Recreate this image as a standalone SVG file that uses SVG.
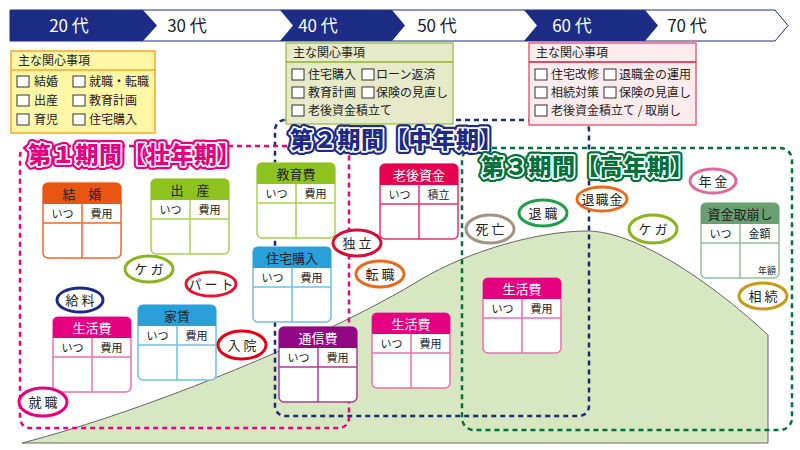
<svg xmlns="http://www.w3.org/2000/svg" width="800" height="450" viewBox="0 0 800 450">
<style>
text{font-family:"Noto Sans CJK JP","Noto Sans",sans-serif}
.bn{font-size:17px;text-anchor:middle}
.cb{fill:#fff;stroke:#333;stroke-width:1}
.bt{font-size:12px;fill:#222}
.fr{fill:#fff;stroke:var(--s);stroke-width:1.5}
.hd{fill:var(--c)}
.ln{stroke:var(--s);stroke-width:1.5;fill:none}
.ct{font-size:13px;text-anchor:middle;fill:var(--t)}
.cs{font-size:11px;text-anchor:middle;fill:#222}
.k-or{--c:#e95513;--s:#ec6a2c;--t:#222}
.k-gr{--c:#8dc21f;--s:#a9cf54;--t:#222}
.k-bl{--c:#29a0da;--s:#6fbfe8;--t:#222}
.k-cr{--c:#e5004f;--s:#e5336f;--t:#fff}
.k-mg{--c:#e4007f;--s:#ee6fb0;--t:#fff}
.k-pu{--c:#920783;--s:#a93c9c;--t:#fff}
.k-sg{--c:#6a9f72;--s:#94c09c;--t:#222}
.ov{fill:#fff;stroke-width:3}
.ot{font-size:13px;text-anchor:middle;fill:#222;letter-spacing:3px}
.fd{fill:none;stroke-width:2.5;stroke-dasharray:5 4}
.po{font-size:23px;font-weight:900;stroke-width:8;stroke-linejoin:round;letter-spacing:0.7px}
.pi{font-size:23px;font-weight:900;stroke:#fff;stroke-width:3.5;stroke-linejoin:round;paint-order:stroke;letter-spacing:0.7px}
</style>

<!-- banner -->
<g id="banner">
<polygon points="10,10 775,10 788,25.5 775,41 10,41" fill="#fff" stroke="#1d2d85" stroke-width="1"/>
<polygon points="10,10 143,10 157,25.5 143,41 10,41" fill="#1d2d85"/>
<polygon points="280,10 392,10 405,25.5 392,41 280,41 293,25.5" fill="#1d2d85"/>
<polygon points="524,10 645,10 658,25.5 645,41 524,41 537,25.5" fill="#1d2d85"/>
<text class="bn" x="69" y="32" fill="#fff">20 代</text>
<text class="bn" x="187" y="32" fill="#222">30 代</text>
<text class="bn" x="318" y="32" fill="#fff">40 代</text>
<text class="bn" x="437" y="32" fill="#222">50 代</text>
<text class="bn" x="572" y="32" fill="#fff">60 代</text>
<text class="bn" x="687" y="32" fill="#222">70 代</text>
</g>

<!-- hill -->
<path id="hill" d="M22,443 C150,410 330,335 420,280 C470,250 540,231 587,231 C640,231 720,290 768,335 L768,443 Z" fill="#d6e7c1" stroke="#666" stroke-width="1"/>

<!-- period frames -->
<g id="periods">
<rect class="fd" x="462" y="148" width="330" height="282" rx="12" stroke="#00703c"/>
<rect class="fd" x="275" y="120" width="314" height="296" rx="10" stroke="#1d2a7a"/>
<rect class="fd" x="20" y="146" width="329" height="282" rx="10" stroke="#e4007f"/>
</g>

<!-- concern boxes -->
<g id="box-20s">
<rect x="11" y="51" width="144" height="82" fill="#fff7a6" stroke="#f7a823" stroke-width="1.5"/>
<line x1="11" y1="70" x2="155" y2="70" stroke="#f7a823" stroke-width="1.5"/>
<text class="bt" x="18" y="65">主な関心事項</text>
<rect class="cb" x="17" y="76" width="12" height="11"/><text class="bt" x="34" y="86">結婚</text>
<rect class="cb" x="73" y="76" width="12" height="11"/><text class="bt" x="89" y="86">就職・転職</text>
<rect class="cb" x="17" y="95" width="12" height="11"/><text class="bt" x="34" y="105">出産</text>
<rect class="cb" x="73" y="95" width="12" height="11"/><text class="bt" x="89" y="105">教育計画</text>
<rect class="cb" x="17" y="114" width="12" height="11"/><text class="bt" x="34" y="124">育児</text>
<rect class="cb" x="73" y="114" width="12" height="11"/><text class="bt" x="89" y="124">住宅購入</text>
</g>

<g id="box-40s">
<rect x="286" y="43" width="167" height="81" fill="#e6eac9" stroke="#a5c455" stroke-width="1.5"/>
<line x1="286" y1="62" x2="453" y2="62" stroke="#8db52f" stroke-width="1.5"/>
<text class="bt" x="293" y="57">主な関心事項</text>
<rect class="cb" x="292" y="69" width="12" height="11"/><text class="bt" x="308" y="79">住宅購入</text>
<rect class="cb" x="362" y="69" width="12" height="11"/><text class="bt" x="376" y="79">ローン返済</text>
<rect class="cb" x="292" y="87" width="12" height="11"/><text class="bt" x="308" y="97">教育計画</text>
<rect class="cb" x="362" y="87" width="12" height="11"/><text class="bt" x="376" y="97">保険の見直し</text>
<rect class="cb" x="292" y="105" width="12" height="11"/><text class="bt" x="308" y="115">老後資金積立て</text>
</g>

<g id="box-60s">
<rect x="529" y="43" width="167" height="82" fill="#fdeced" stroke="#e8607a" stroke-width="1.5"/>
<line x1="529" y1="62" x2="696" y2="62" stroke="#e0103a" stroke-width="1.5"/>
<text class="bt" x="536" y="57">主な関心事項</text>
<rect class="cb" x="535" y="69" width="12" height="11"/><text class="bt" x="551" y="79">住宅改修</text>
<rect class="cb" x="604" y="69" width="12" height="11"/><text class="bt" x="619" y="79">退職金の運用</text>
<rect class="cb" x="535" y="87" width="12" height="11"/><text class="bt" x="551" y="97">相続対策</text>
<rect class="cb" x="604" y="87" width="12" height="11"/><text class="bt" x="619" y="97">保険の見直し</text>
<rect class="cb" x="535" y="105" width="12" height="11"/><text class="bt" x="551" y="115">老後資金積立て / 取崩し</text>
</g>

<!-- period titles -->
<g id="title-1">
<text class="po" x="28" y="163" fill="#e4007f" stroke="#e4007f">第１期間【壮年期】</text>
<text class="pi" x="28" y="163" fill="#e4007f">第１期間【壮年期】</text>
</g>
<g id="title-2">
<text class="po" x="290" y="148" fill="#1d2a88" stroke="#1d2a88">第２期間【中年期】</text>
<text class="pi" x="290" y="148" fill="#1d2a88">第２期間【中年期】</text>
</g>
<g id="title-3">
<text class="po" x="481" y="175" fill="#00703c" stroke="#00703c">第３期間【高年期】</text>
<text class="pi" x="481" y="175" fill="#00703c">第３期間【高年期】</text>
</g>

<!-- cards -->
<g id="card-kekkon" class="k-or" transform="translate(43,183)">
<rect class="fr" width="78" height="75" rx="5"/><path class="hd" d="M0,21V5Q0,0 5,0H73Q78,0 78,5V21Z"/>
<path class="ln" d="M0,40H78M39,21V75"/>
<text class="ct" x="39" y="15.5">結　婚</text><text class="cs" x="19.5" y="35">いつ</text><text class="cs" x="58.5" y="35">費用</text>
</g>
<g id="card-shussan" class="k-gr" transform="translate(151,179)">
<rect class="fr" width="78" height="75" rx="5"/><path class="hd" d="M0,21V5Q0,0 5,0H73Q78,0 78,5V21Z"/>
<path class="ln" d="M0,40H78M39,21V75"/>
<text class="ct" x="39" y="15.5">出　産</text><text class="cs" x="19.5" y="35">いつ</text><text class="cs" x="58.5" y="35">費用</text>
</g>
<g id="card-kyouiku" class="k-gr" transform="translate(257,163)">
<rect class="fr" width="78" height="75" rx="5"/><path class="hd" d="M0,21V5Q0,0 5,0H73Q78,0 78,5V21Z"/>
<path class="ln" d="M0,40H78M39,21V75"/>
<text class="ct" x="39" y="15.5">教育費</text><text class="cs" x="19.5" y="35">いつ</text><text class="cs" x="58.5" y="35">費用</text>
</g>
<g id="card-juutaku" class="k-bl" transform="translate(253,247)">
<rect class="fr" width="78" height="75" rx="5"/><path class="hd" d="M0,21V5Q0,0 5,0H73Q78,0 78,5V21Z"/>
<path class="ln" d="M0,40H78M39,21V75"/>
<text class="ct" x="39" y="15.5">住宅購入</text><text class="cs" x="19.5" y="35">いつ</text><text class="cs" x="58.5" y="35">費用</text>
</g>
<g id="card-rougo" class="k-cr" transform="translate(380,164)">
<rect class="fr" width="78" height="75" rx="5"/><path class="hd" d="M0,21V5Q0,0 5,0H73Q78,0 78,5V21Z"/>
<path class="ln" d="M0,40H78M39,21V75"/>
<text class="ct" x="39" y="15.5">老後資金</text><text class="cs" x="19.5" y="35">いつ</text><text class="cs" x="58.5" y="35">積立</text>
</g>
<g id="card-seikatsu1" class="k-mg" transform="translate(53,317)">
<rect class="fr" width="78" height="75" rx="5"/><path class="hd" d="M0,21V5Q0,0 5,0H73Q78,0 78,5V21Z"/>
<path class="ln" d="M0,40H78M39,21V75"/>
<text class="ct" x="39" y="15.5">生活費</text><text class="cs" x="19.5" y="35">いつ</text><text class="cs" x="58.5" y="35">費用</text>
</g>
<g id="card-yachin" class="k-bl" transform="translate(138,305)">
<rect class="fr" width="78" height="75" rx="5"/><path class="hd" d="M0,21V5Q0,0 5,0H73Q78,0 78,5V21Z"/>
<path class="ln" d="M0,40H78M39,21V75"/>
<text class="ct" x="39" y="15.5">家賃</text><text class="cs" x="19.5" y="35">いつ</text><text class="cs" x="58.5" y="35">費用</text>
</g>
<g id="card-tsuushin" class="k-pu" transform="translate(279,327)">
<rect class="fr" width="78" height="75" rx="5"/><path class="hd" d="M0,21V5Q0,0 5,0H73Q78,0 78,5V21Z"/>
<path class="ln" d="M0,40H78M39,21V75"/>
<text class="ct" x="39" y="15.5">通信費</text><text class="cs" x="19.5" y="35">いつ</text><text class="cs" x="58.5" y="35">費用</text>
</g>
<g id="card-seikatsu2" class="k-mg" transform="translate(372,313)">
<rect class="fr" width="78" height="75" rx="5"/><path class="hd" d="M0,21V5Q0,0 5,0H73Q78,0 78,5V21Z"/>
<path class="ln" d="M0,40H78M39,21V75"/>
<text class="ct" x="39" y="15.5">生活費</text><text class="cs" x="19.5" y="35">いつ</text><text class="cs" x="58.5" y="35">費用</text>
</g>
<g id="card-seikatsu3" class="k-mg" transform="translate(483,278)">
<rect class="fr" width="78" height="75" rx="5"/><path class="hd" d="M0,21V5Q0,0 5,0H73Q78,0 78,5V21Z"/>
<path class="ln" d="M0,40H78M39,21V75"/>
<text class="ct" x="39" y="15.5">生活費</text><text class="cs" x="19.5" y="35">いつ</text><text class="cs" x="58.5" y="35">費用</text>
</g>
<g id="card-torikuzushi" class="k-sg" transform="translate(701,203)">
<rect class="fr" width="78" height="75" rx="5"/><path class="hd" d="M0,21V5Q0,0 5,0H73Q78,0 78,5V21Z"/>
<path class="ln" d="M0,40H78M39,21V75"/>
<text class="ct" x="39" y="15.5">資金取崩し</text><text class="cs" x="19.5" y="35">いつ</text><text class="cs" x="58.5" y="35">金額</text>
<text x="75" y="71" font-size="9" text-anchor="end" fill="#222">年額</text>
</g>

<!-- event ovals -->
<g id="ev-kega1"><ellipse class="ov" cx="149" cy="269" rx="24" ry="13" stroke="#8ab520"/><text class="ot" x="150.5" y="274">ケガ</text></g>
<g id="ev-part"><ellipse class="ov" cx="211" cy="284" rx="25" ry="12" stroke="#e8132f"/><text class="ot" x="212.5" y="289">パート</text></g>
<g id="ev-kyuuryou"><ellipse class="ov" cx="80" cy="300" rx="23" ry="12" stroke="#1d2a88"/><text class="ot" x="81.5" y="305">給料</text></g>
<g id="ev-nyuuin"><ellipse class="ov" cx="242" cy="345" rx="24" ry="14" stroke="#e60012"/><text class="ot" x="243.5" y="350">入院</text></g>
<g id="ev-shuushoku"><ellipse class="ov" cx="43" cy="402" rx="24" ry="14" stroke="#e4007f"/><text class="ot" x="44.5" y="407">就職</text></g>
<g id="ev-dokuritsu"><ellipse class="ov" cx="357" cy="243" rx="24" ry="13" stroke="#d0103a"/><text class="ot" x="358.5" y="248">独立</text></g>
<g id="ev-tenshoku"><ellipse class="ov" cx="380" cy="274" rx="24" ry="13" stroke="#ea6a1d"/><text class="ot" x="381.5" y="279">転職</text></g>
<g id="ev-shibou"><ellipse class="ov" cx="490" cy="229" rx="24" ry="14" stroke="#a39382"/><text class="ot" x="491.5" y="234">死亡</text></g>
<g id="ev-taishoku"><ellipse class="ov" cx="543" cy="213" rx="24" ry="13" stroke="#20a04a"/><text class="ot" x="544.5" y="218">退職</text></g>
<g id="ev-taishokukin"><ellipse class="ov" cx="602" cy="199" rx="25" ry="12" stroke="#ea6a1d"/><text class="ot" x="602.5" y="204" style="letter-spacing:1px">退職金</text></g>
<g id="ev-kega2"><ellipse class="ov" cx="653" cy="229" rx="24" ry="14" stroke="#8ab520"/><text class="ot" x="654.5" y="234">ケガ</text></g>
<g id="ev-nenkin"><ellipse class="ov" cx="713" cy="181" rx="23" ry="12" stroke="#e4679c"/><text class="ot" x="714.5" y="186">年金</text></g>
<g id="ev-souzoku"><ellipse class="ov" cx="763" cy="296" rx="24" ry="13" stroke="#c89a16"/><text class="ot" x="764.5" y="301">相続</text></g>
</svg>
